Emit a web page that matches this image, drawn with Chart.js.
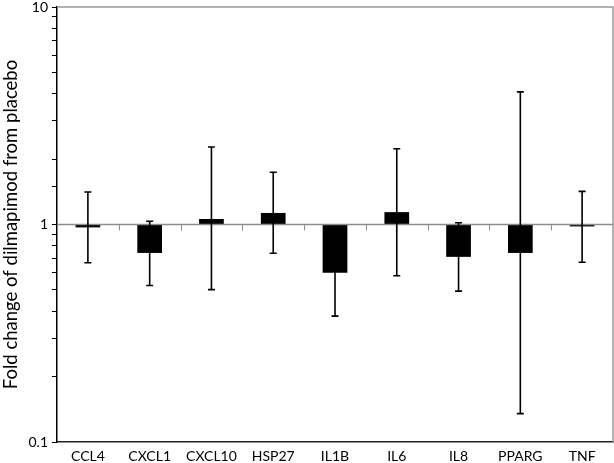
<!DOCTYPE html>
<html>
<head>
<meta charset="utf-8">
<script src="https://cdn.jsdelivr.net/npm/chart.js@4.4.0/dist/chart.umd.min.js"></script>
<style>
  html, body { margin: 0; padding: 0; background: #fff; }
  #wrap { width: 614px; height: 463px; }
</style>
</head>
<body>
<div id="wrap"><canvas id="c" width="614" height="463"></canvas></div>
<script>
const categories = ['CCL4', 'CXCL1', 'CXCL10', 'HSP27', 'IL1B', 'IL6', 'IL8', 'PPARG', 'TNF'];
const foldChange = [0.97, 0.74, 1.06, 1.13, 0.60, 1.14, 0.71, 0.74, 0.98];
const errLow  = [0.667, 0.524, 0.502, 0.738, 0.379, 0.581, 0.494, 0.135, 0.671];
const errHigh = [1.41, 1.035, 2.27, 1.74, 0.95, 2.23, 1.018, 4.07, 1.42];
const yTickLabels = [0.1, 1, 10];
const baseline = 1;

const FONT = 'Lato, "Open Sans", sans-serif';

const decorPlugin = {
  id: 'decor',
  afterDatasetsDraw(chart) {
    const { ctx, chartArea: a, scales: { x, y } } = chart;
    ctx.save();
    ctx.strokeStyle = '#999';
    ctx.lineWidth = 1.5;
    ctx.beginPath();
    ctx.moveTo(a.left, a.top);
    ctx.lineTo(a.right, a.top);
    ctx.lineTo(a.right, a.bottom);
    ctx.stroke();
    const yb = y.getPixelForValue(baseline);
    ctx.strokeStyle = '#8c8c8c';
    ctx.lineWidth = 1.5;
    ctx.beginPath();
    ctx.moveTo(a.left, yb);
    ctx.lineTo(a.right, yb);
    ctx.stroke();
    ctx.lineWidth = 1;
    for (let i = 0; i < categories.length - 1; i++) {
      const xx = (x.getPixelForValue(i) + x.getPixelForValue(i + 1)) / 2;
      ctx.beginPath();
      ctx.moveTo(Math.round(xx) + 0.5, yb);
      ctx.lineTo(Math.round(xx) + 0.5, yb + 6);
      ctx.stroke();
    }
    ctx.strokeStyle = '#000';
    ctx.lineWidth = 1.6;
    const cap = 3.5;
    for (let i = 0; i < categories.length; i++) {
      const xc = x.getPixelForValue(i);
      const yl = y.getPixelForValue(errLow[i]);
      const yh = y.getPixelForValue(errHigh[i]);
      ctx.beginPath();
      ctx.moveTo(xc, yl); ctx.lineTo(xc, yh);
      ctx.moveTo(xc - cap, yl); ctx.lineTo(xc + cap, yl);
      ctx.moveTo(xc - cap, yh); ctx.lineTo(xc + cap, yh);
      ctx.stroke();
    }
    ctx.restore();
  }
};

new Chart(document.getElementById('c'), {
  type: 'bar',
  data: {
    labels: categories,
    datasets: [{
      data: foldChange.map(v => [baseline, v]),
      backgroundColor: '#000',
      borderWidth: 0,
      barPercentage: 0.4,
      categoryPercentage: 1.0
    }]
  },
  options: {
    responsive: false,
    animation: false,
    devicePixelRatio: 1,
    layout: { padding: { top: 7, right: 1, left: 0, bottom: 0 } },
    plugins: { legend: { display: false }, tooltip: { enabled: false } },
    scales: {
      x: {
        type: 'category',
        offset: true,
        grid: { display: false, drawTicks: false },
        border: { display: true, color: '#222', width: 1.5 },
        ticks: { color: '#000', font: { family: FONT, size: 14 }, padding: 6, maxRotation: 0, autoSkip: false },
        afterFit(s) { s.height = 21; s.paddingLeft = 0; s.paddingRight = 0; }
      },
      y: {
        type: 'logarithmic',
        min: 0.1,
        max: 10,
        border: { display: true, color: '#000', width: 1.5 },
        grid: { drawOnChartArea: false, drawTicks: true, tickLength: 5, color: '#000', lineWidth: 1 },
        ticks: {
          autoSkip: false,
          color: '#000',
          padding: 4,
          font: { family: FONT, size: 14 },
          callback(v) {
            const hit = yTickLabels.find(t => Math.abs(Math.log10(v) - Math.log10(t)) < 1e-6);
            return hit !== undefined ? String(hit) : '';
          }
        },
        title: {
          display: true,
          text: 'Fold change of dilmapimod from placebo',
          color: '#000',
          font: { family: FONT, size: 18.5 },
          padding: { top: 0, bottom: 0 }
        },
        afterFit(s) { s.width = 57; s.paddingTop = 0; s.paddingBottom = 0; }
      }
    }
  },
  plugins: [decorPlugin]
});
</script>
</body>
</html>
